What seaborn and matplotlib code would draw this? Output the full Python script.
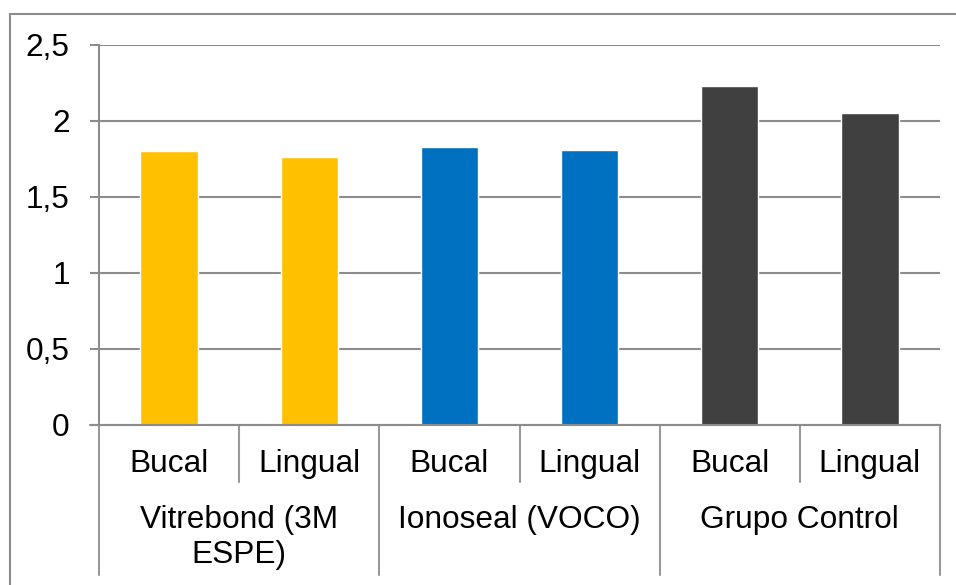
import numpy as np
import pandas as pd
import matplotlib.pyplot as plt
from matplotlib.patches import Rectangle
import matplotlib.transforms as mtransforms
import seaborn as sns

# data
grupos = ["Vitrebond (3M\nESPE)", "Ionoseal (VOCO)", "Grupo Control"]
caras = ["Bucal", "Lingual"]
valores = [1.80, 1.76, 1.83, 1.81, 2.23, 2.05]
colores = ["#FFC000", "#0070C0", "#404040"]
yticks = [0, 0.5, 1, 1.5, 2, 2.5]

df = pd.DataFrame({
    "pos": [f"{g}|{c}" for g in grupos for c in caras],
    "grupo": [g for g in grupos for c in caras],
    "cara": [c for g in grupos for c in caras],
    "valor": valores,
})

sns.set_style("white")
plt.rcParams["font.family"] = ["Liberation Sans", "DejaVu Sans"]
plt.rcParams["text.color"] = "black"
plt.rcParams["ytick.labelcolor"] = "black"

fs = 22.8
W, H = 956, 585
fig = plt.figure(figsize=(W / 100, H / 100), dpi=100)
ax = fig.add_axes([99 / W, 1 - 425 / H, (940 - 99) / W, (425 - 45) / H])

sns.barplot(data=df, x="pos", y="valor", hue="grupo", palette=colores,
            dodge=False, width=0.41, legend=False, ax=ax, saturation=1)

grid_c = "#8c8c8c"
ax.set_ylim(0, 2.5)
ax.set_xlim(-0.5, len(df) - 0.5)
ax.set_yticks(yticks)
ax.set_yticklabels([f"{t:g}".replace(".", ",") for t in yticks], fontsize=fs)
ax.yaxis.grid(True, color=grid_c, linewidth=1.5)
ax.set_axisbelow(True)
ax.tick_params(axis="y", length=6.5, width=1.5, color=grid_c, pad=14.5,
               left=True, labelcolor="black")
ax.set_xticks([])
ax.set_xlabel("")
ax.set_ylabel("")
for s in ["top", "right"]:
    ax.spines[s].set_visible(False)
for s in ["left", "bottom"]:
    ax.spines[s].set_color(grid_c)
    ax.spines[s].set_linewidth(1.5)

# multi-level category axis
tr = mtransforms.blended_transform_factory(ax.transData, ax.transAxes)
sub_bot = (425 - 482) / 380
grp_bot = (425 - 575) / 380
sep_c = "#999999"
n = len(df)
for i in range(n + 1):
    x = i - 0.5
    y0 = grp_bot if i % 2 == 0 else sub_bot
    ax.plot([x, x], [0, y0], transform=tr, color=sep_c, lw=1.5, clip_on=False)
ax.plot([-0.5 - 0.064, -0.5], [0, 0], transform=tr, color=grid_c, lw=1.5, clip_on=False)

for i, row in df.iterrows():
    ax.text(i, (425 - 464) / 380, row["cara"], transform=tr, ha="center",
            va="center", fontsize=fs, color="black")
for j, g in enumerate(grupos):
    ax.text(2 * j + 0.5, (425 - 505) / 380, g, transform=tr, ha="center",
            va="top", fontsize=fs, linespacing=1.22, color="black")

# outer chart border (cropped at right and bottom)
fig.patches.append(Rectangle((10 / W, -0.1), 1.2, 1 - 14 / H + 0.1,
                             transform=fig.transFigure, fill=False,
                             edgecolor=grid_c, linewidth=1.5, zorder=0))

fig.savefig("out.png", dpi=100)
